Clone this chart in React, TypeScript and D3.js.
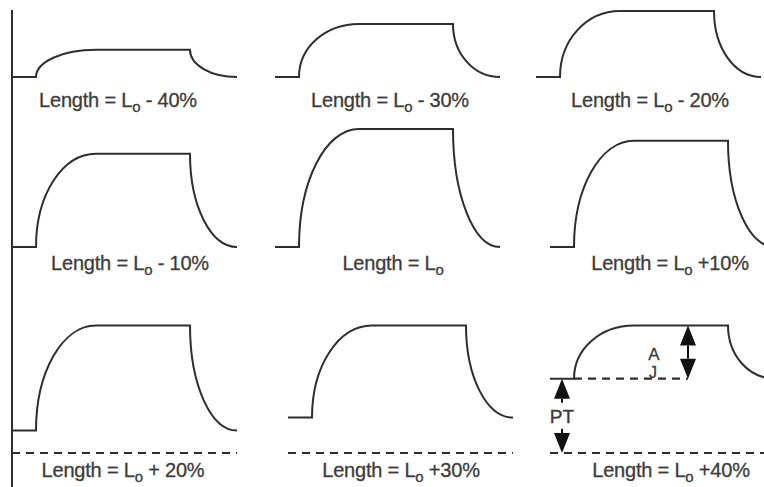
import React from "react";
import * as d3 from "d3";

// length change from optimal length L0 for each panel (row by row)
const lengthLabels = ["- 40%", "- 30%", "- 20%", "- 10%", "", "+10%", "+ 20%", "+30%", "+40%"];
// tension in % of maximal active tension at L0
const passiveTension = [0, 0, 0, 0, 0, 0, 19, 30, 63];
const activeTension = [23, 45, 56, 79, 100, 90, 89, 78, 45];
// time points: start, stimulus on, plateau reached, stimulus off, relaxed
const phaseTimes = [0, 24, 84, 178, 225];
// time where the active amplitude (A) and passive tension (PT) are marked in the last panel
const amplitudeTime = 138;
const ptTime = 12;

const width = 764;
const height = 487;
const panelX = [12, 275, 536, 12, 275, 550, 12, 288, 550];
const rowZero = [77, 247, 453];
const labelBase = [107, 270, 477];
const labelCx = [118, 390, 650, 130, 393, 670, 123, 401, 671];
const ink = "#2e2e2e";
const textInk = "#3c3c3c";
const K = 0.56;

const x = d3.scaleLinear().domain([0, 225]).range([0, 225]);
const y = d3.scaleLinear().domain([0, 100]).range([0, -118]);

function tracePath(passive: number, active: number) {
  const [t0, t1, t2, t3, t4] = phaseTimes.map(x);
  const base = y(passive);
  const peak = y(passive + active);
  const p = d3.path();
  p.moveTo(t0, base);
  p.lineTo(t1, base);
  p.bezierCurveTo(t1, base + K * (peak - base), t2 - K * (t2 - t1), peak, t2, peak);
  p.lineTo(t3, peak);
  p.bezierCurveTo(t3, peak + K * (base - peak), t4 - K * (t4 - t3), base, t4, base);
  return p.toString();
}

// double headed arrow between y1 (top) and y2 (bottom), shaft optionally broken for a label
function Arrow({ cx, y1, y2, gap = 0 }: { cx: number; y1: number; y2: number; gap?: number }) {
  const hh = 20;
  const hw = 8;
  const mid = (y1 + y2) / 2;
  return (
    <g fill="#111" stroke="#111">
      {gap > 0 ? (
        <>
          <line x1={cx} x2={cx} y1={y1 + hh} y2={mid - gap / 2} strokeWidth={2} />
          <line x1={cx} x2={cx} y1={mid + gap / 2} y2={y2 - hh} strokeWidth={2} />
        </>
      ) : (
        <line x1={cx} x2={cx} y1={y1 + hh} y2={y2 - hh} strokeWidth={2} />
      )}
      <path d={`M${cx},${y1}L${cx - hw},${y1 + hh}L${cx + hw},${y1 + hh}Z`} strokeWidth={0} />
      <path d={`M${cx},${y2}L${cx - hw},${y2 - hh}L${cx + hw},${y2 - hh}Z`} strokeWidth={0} />
    </g>
  );
}

export default function App() {
  return (
    <svg
      width={width}
      height={height}
      style={{ position: "absolute", left: 0, top: 0, background: "#fff" }}
      fontFamily="'Liberation Sans', Arial, sans-serif"
    >
      <line x1={12} x2={12} y1={10} y2={height} stroke={ink} strokeWidth={2} />
      {lengthLabels.map((lab, i) => {
        const row = Math.floor(i / 3);
        const passive = passiveTension[i];
        const active = activeTension[i];
        return (
          <g key={i}>
            <g transform={`translate(${panelX[i]},${rowZero[row]})`}>
              {row === 2 && (
                <line
                  x1={x(phaseTimes[0])}
                  x2={Math.min(x(phaseTimes[4]), width - panelX[i])}
                  y1={y(0)}
                  y2={y(0)}
                  stroke={ink}
                  strokeWidth={2.2}
                  strokeDasharray="8,6"
                />
              )}
              {i === 8 && (
                <>
                  <line
                    x1={x(phaseTimes[1])}
                    x2={x(amplitudeTime)}
                    y1={y(passive)}
                    y2={y(passive)}
                    stroke={ink}
                    strokeWidth={2.2}
                    strokeDasharray="8,6"
                  />
                  <Arrow cx={x(ptTime)} y1={y(passive)} y2={y(0)} gap={26} />
                  <Arrow cx={x(amplitudeTime)} y1={y(passive + active)} y2={y(passive)} />
                  <text
                    x={x(ptTime)}
                    y={(y(passive) + y(0)) / 2 + 7}
                    textAnchor="middle"
                    fontSize={19}
                    fill={textInk}
                    stroke={textInk}
                    strokeWidth={0.4}
                  >
                    PT
                  </text>
                  <text
                    x={x(amplitudeTime) - 34}
                    y={y(passive) - 19}
                    textAnchor="middle"
                    fontSize={17}
                    fill={textInk}
                    stroke={textInk}
                    strokeWidth={0.3}
                  >
                    A
                  </text>
                  <text
                    x={x(amplitudeTime) - 35}
                    y={y(passive) - 1}
                    textAnchor="middle"
                    fontSize={16}
                    fill={textInk}
                    stroke={textInk}
                    strokeWidth={0.3}
                  >
                    J
                  </text>
                </>
              )}
              <path d={tracePath(passive, active)} fill="none" stroke={ink} strokeWidth={2} />
            </g>
            <text
              x={labelCx[i]}
              y={labelBase[row]}
              textAnchor="middle"
              fontSize={20}
              fill={textInk}
              stroke={textInk}
              strokeWidth={0.3}
              letterSpacing={-0.2}
            >
              Length = L
              <tspan fontSize={15} dy={5}>o</tspan>
              {lab && <tspan dy={-5}>{" " + lab}</tspan>}
            </text>
          </g>
        );
      })}
    </svg>
  );
}
